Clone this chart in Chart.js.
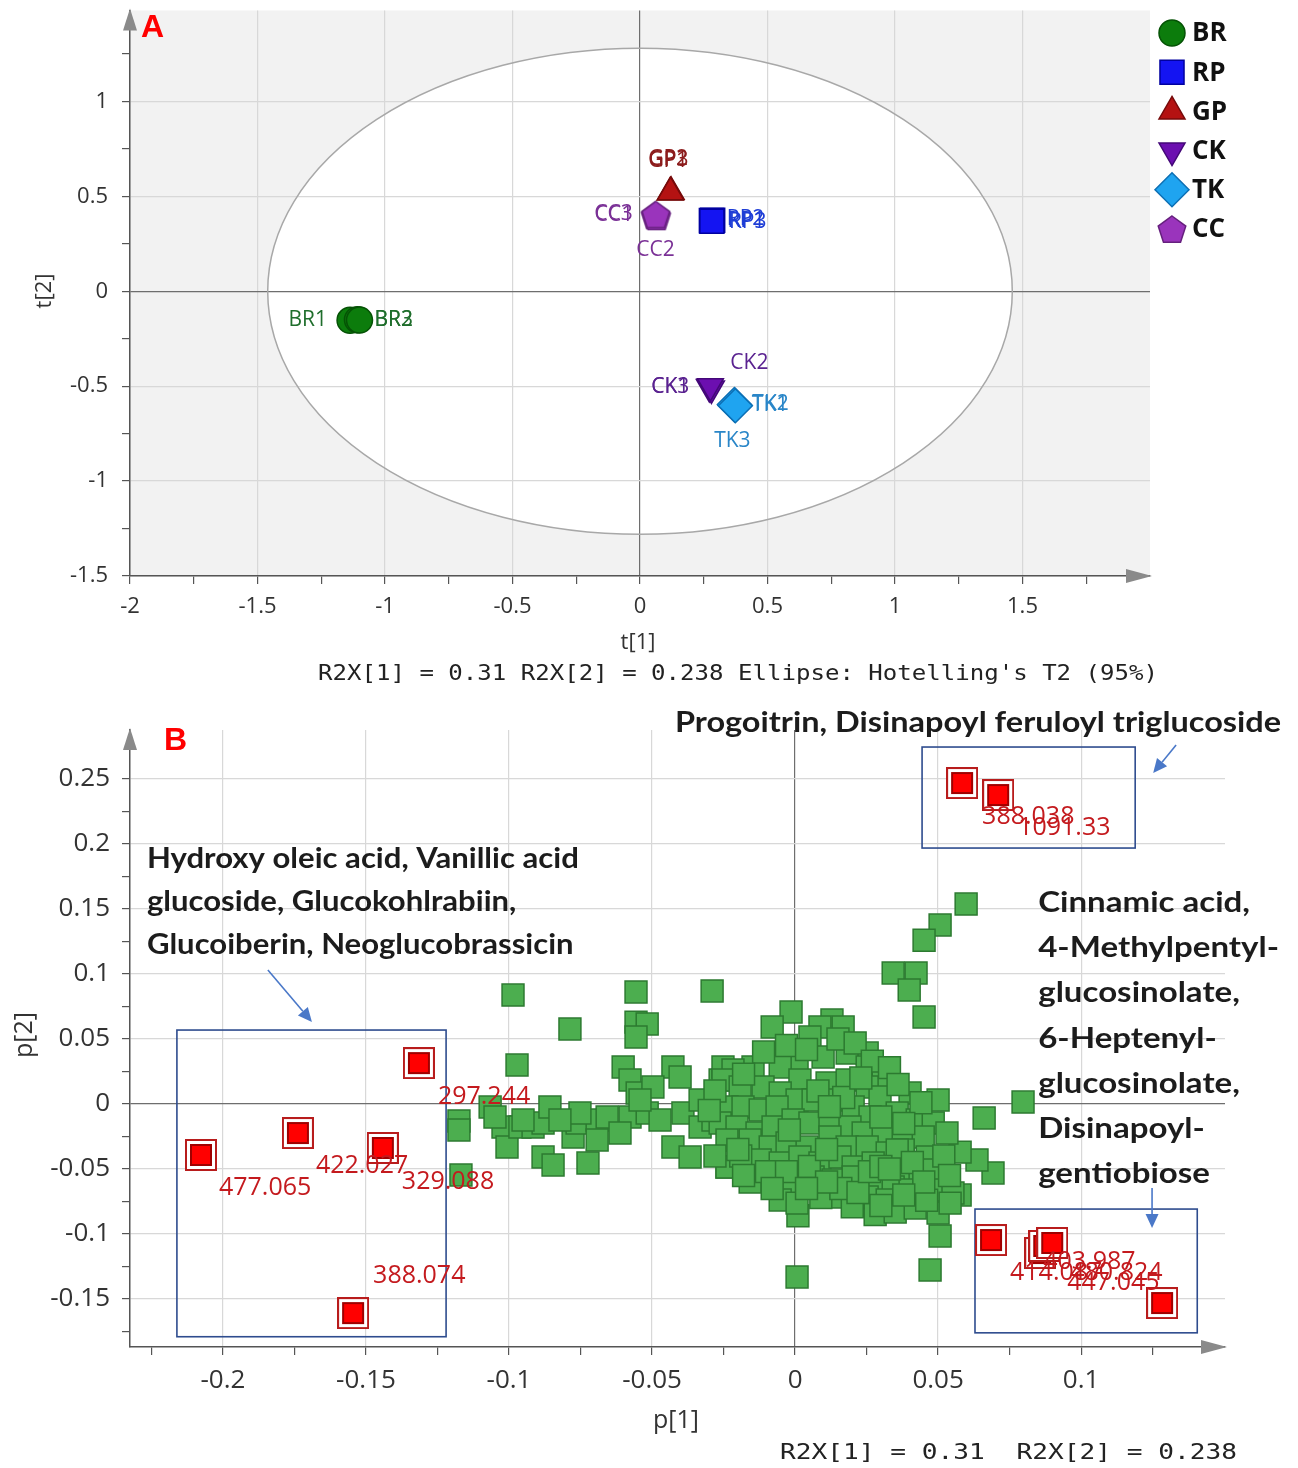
<!DOCTYPE html>
<html>
<head>
<meta charset="utf-8">
<script src="https://cdn.jsdelivr.net/npm/chart.js@4.4.1/dist/chart.umd.min.js"></script>
<style>
  body { margin: 0; background: #fff; width: 1298px; height: 1468px; overflow: hidden; position: relative; }
  canvas { display: block; position: absolute; left: 0; }
  #chartA { top: -8px; }
  #chartB { top: 695px; }
</style>
</head>
<body>
<canvas id="chartA" width="1298" height="703"></canvas>
<canvas id="chartB" width="1298" height="773"></canvas>
<script>
// ---------- panel A: scores t[1] / t[2] ----------
const groupNames = ['BR', 'RP', 'GP', 'CK', 'TK', 'CC'];
const scoresBR = [[-1.137, -0.153], [-1.108, -0.150], [-1.100, -0.152]];
const scoresRP = [[0.280, 0.372], [0.285, 0.374], [0.282, 0.369]];
const scoresGP = [[0.118, 0.520], [0.122, 0.524], [0.120, 0.522]];
const scoresCK = [[0.272, -0.505], [0.280, -0.512], [0.276, -0.500]];
const scoresTK = [[0.372, -0.600], [0.370, -0.597], [0.374, -0.603]];
const scoresCC = [[0.060, 0.400], [0.065, 0.395], [0.062, 0.405]];
const sampleNums = ['1', '2', '3'];

const t1Ticks = [-2, -1.75, -1.5, -1.25, -1, -0.75, -0.5, -0.25, 0, 0.25, 0.5, 0.75, 1, 1.25, 1.5, 1.75];
const t1TickLabels = ['-2', '', '-1.5', '', '-1', '', '-0.5', '', '0', '', '0.5', '', '1', '', '1.5', ''];
const t2Ticks = [-1.5, -1.25, -1, -0.75, -0.5, -0.25, 0, 0.25, 0.5, 0.75, 1, 1.25];
const t2TickLabels = ['-1.5', '', '-1', '', '-0.5', '', '0', '', '0.5', '', '1', ''];

// Hotelling's T2 (95%) ellipse half-axes
const ellipseT1 = 1.46;
const ellipseT2 = 1.28;

// ---------- panel B: loadings p[1] / p[2] ----------
const greenLoadings = [
  [-0.0986, 0.0838], [-0.0787, 0.0577], [-0.0972, 0.0300], [-0.0556, 0.0862], [-0.0556, 0.0630],
  [-0.0517, 0.0615], [-0.0556, 0.0515], [-0.0290, 0.0870], [-0.1175, -0.0130], [-0.1175, -0.0200],
  [-0.1168, -0.0546],
  [-0.1066, -0.0023], [-0.1021, -0.0177], [-0.1007, -0.0331], [-0.0962, -0.0177], [-0.0916, -0.0177],
  [-0.0881, -0.0146], [-0.0857, -0.0023], [-0.0881, -0.0408], [-0.0846, -0.0469], [-0.0776, -0.0254],
  [-0.0762, -0.0146], [-0.0724, -0.0454], [-0.0692, -0.0123], [-0.0657, -0.0100], [-0.0601, 0.0285],
  [-0.0577, 0.0185], [-0.0552, 0.0085], [-0.0577, -0.0100], [-0.0517, -0.0069], [-0.0472, -0.0123],
  [-0.0427, 0.0285], [-0.0402, 0.0208], [-0.0427, -0.0331], [-0.0367, -0.0408], [-0.0392, -0.0069],
  [-0.0332, 0.0031], [-0.0332, -0.0177], [-0.0262, 0.0185], [-0.0252, 0.0285], [-0.0238, -0.0485],
  [-0.0287, -0.0123], [-0.0227, -0.0069], [-0.0497, 0.0131], [-0.0542, 0.0031], [-0.0752, -0.0069],
  [-0.0822, -0.0123], [-0.0951, -0.0123], [-0.1049, -0.0100], [-0.0692, -0.0277], [-0.0612, -0.0223],
  [0.0598, 0.1538], [0.0507, 0.1377], [0.0451, 0.1260], [0.0343, 0.1008], [0.0423, 0.1008],
  [0.0399, 0.0877], [0.0451, 0.0669], [-0.0014, 0.0708], [-0.0080, 0.0592],
  [0.0797, 0.0015], [0.0661, -0.0108], [0.0692, -0.0530], [0.0636, -0.0430], [0.0577, -0.0370],
  [0.0007, -0.1330], [0.0472, -0.1277], [0.0507, -0.1015], [0.0500, -0.0838], [0.0577, -0.0700],
  [0.0010, -0.0860],
  [0.0129, 0.0646], [0.0087, 0.0592], [0.0168, 0.0592], [0.0052, 0.0515], [0.0252, 0.0392],
  [0.0007, 0.0338], [0.0098, 0.0362], [0.0182, 0.0392], [0.0252, 0.0285], [0.0308, 0.0208],
  [-0.0052, 0.0285], [-0.0147, 0.0285], [-0.0217, 0.0262], [0.0017, 0.0185], [0.0112, 0.0162],
  [0.0182, 0.0185], [0.0252, 0.0131], [0.0297, 0.0054], [0.0402, 0.0085], [0.0500, 0.0031],
  [-0.0252, 0.0185], [-0.0192, 0.0131], [-0.0112, 0.0131], [-0.0052, 0.0085], [0.0007, 0.0031],
  [0.0063, 0.0031], [0.0133, 0.0031], [0.0203, -0.0023], [0.0262, -0.0100], [0.0357, -0.0069],
  [0.0427, -0.0123], [0.0483, -0.0146], [-0.0238, -0.0023], [-0.0182, -0.0023], [-0.0122, -0.0046],
  [-0.0063, -0.0023], [-0.0262, -0.0146], [-0.0203, -0.0177], [-0.0133, -0.0223], [-0.0077, -0.0177],
  [-0.0007, -0.0123], [0.0052, -0.0146], [0.0122, -0.0123], [0.0192, -0.0177], [0.0238, -0.0223],
  [0.0308, -0.0223], [0.0378, -0.0277], [0.0448, -0.0254], [0.0531, -0.0223], [-0.0238, -0.0277],
  [-0.0157, -0.0277], [-0.0087, -0.0331], [-0.0028, -0.0300], [0.0042, -0.0331], [0.0122, -0.0254],
  [0.0182, -0.0331], [0.0252, -0.0331], [0.0322, -0.0377], [0.0378, -0.0354], [0.0462, -0.0408],
  [-0.0238, -0.0485], [-0.0122, -0.0431], [-0.0052, -0.0454], [0.0017, -0.0408], [0.0087, -0.0454],
  [0.0157, -0.0408], [0.0203, -0.0485], [0.0273, -0.0454], [0.0357, -0.0354], [0.0367, -0.0562],
  [0.0437, -0.0562], [0.0483, -0.0508], [-0.0077, -0.0585], [-0.0007, -0.0608], [0.0063, -0.0562],
  [0.0133, -0.0585], [0.0203, -0.0562], [0.0287, -0.0585], [0.0343, -0.0638], [0.0402, -0.0662],
  [0.0497, -0.0662], [0.0552, -0.0685], [-0.0052, -0.0738], [0.0007, -0.0762], [0.0133, -0.0715],
  [0.0252, -0.0715], [0.0322, -0.0738], [0.0542, -0.0762], [-0.0157, -0.0600], [-0.0190, -0.0400],
  [0.0280, -0.0850], [0.0350, -0.0830], [0.0420, -0.0800], [0.0200, -0.0790], [0.0090, -0.0720],
  [0.0460, -0.0740],
  [-0.0110, 0.0400], [-0.0030, 0.0450], [0.0040, 0.0420], [0.0150, 0.0500], [0.0210, 0.0470],
  [0.0270, 0.0330], [0.0330, 0.0280], [0.0360, 0.0150], [0.0440, 0.0010], [-0.0180, 0.0230],
  [-0.0280, 0.0100], [-0.0300, -0.0050], [-0.0200, -0.0350], [-0.0280, -0.0400], [-0.0180, -0.0550],
  [-0.0100, -0.0520], [-0.0030, -0.0520], [0.0050, -0.0480], [0.0110, -0.0350], [0.0160, -0.0650],
  [0.0220, -0.0680], [0.0260, -0.0520], [0.0300, -0.0480], [0.0330, -0.0500], [0.0410, -0.0450],
  [0.0450, -0.0600], [0.0380, -0.0700], [0.0300, -0.0780], [0.0110, -0.0600], [0.0040, -0.0650],
  [-0.0080, -0.0650], [0.0080, 0.0100], [0.0170, 0.0050], [0.0230, 0.0200], [-0.0020, -0.0200],
  [0.0120, -0.0020], [0.0300, -0.0100], [0.0380, -0.0150], [0.0520, -0.0400], [0.0540, -0.0550]
];
const redLoadings = [
  [-0.1315, 0.0315], [-0.1738, -0.0223], [-0.1441, -0.0338], [-0.2077, -0.0392], [-0.1545, -0.1608],
  [0.0584, 0.2469], [0.0710, 0.2377],
  [0.0685, -0.1046], [0.0857, -0.1146], [0.0871, -0.1092], [0.0899, -0.1069], [0.1283, -0.1531]
];
const redMz = ['297.244', '422.027', '329.088', '477.065', '388.074', '388.038', '1091.33',
  '414.087', '403.987', '447.045', '480.824', ''];

const p1Ticks = [-0.225, -0.2, -0.175, -0.15, -0.125, -0.1, -0.075, -0.05, -0.025, 0, 0.025, 0.05, 0.075, 0.1, 0.125];
const p1TickLabels = ['', '-0.2', '', '-0.15', '', '-0.1', '', '-0.05', '', '0', '', '0.05', '', '0.1', ''];
const p2Ticks = [-0.175, -0.15, -0.125, -0.1, -0.075, -0.05, -0.025, 0, 0.025, 0.05, 0.075, 0.1, 0.125, 0.15, 0.175, 0.2, 0.225, 0.25];
const p2TickLabels = ['', '-0.15', '', '-0.1', '', '-0.05', '', '0', '', '0.05', '', '0.1', '', '0.15', '', '0.2', '', '0.25'];

const noteTop = ['Progoitrin, Disinapoyl feruloyl triglucoside'];
const noteLeft = ['Hydroxy oleic acid, Vanillic acid', 'glucoside, Glucokohlrabiin,', 'Glucoiberin, Neoglucobrassicin'];
const noteRight = ['Cinnamic acid,', '4-Methylpentyl-', 'glucosinolate,', '6-Heptenyl-', 'glucosinolate,', 'Disinapoyl-', 'gentiobiose'];

// ---------- styles ----------
const SANS = "'Open Sans', 'Noto Sans', sans-serif";
const MONO = "'DejaVu Sans Mono', 'Liberation Mono', monospace";
Chart.defaults.font.family = SANS;
const SHIFT_A = 8; // canvas A sits 8px above the page top

function makePentagon(size, fill, line) {
  const c = document.createElement('canvas');
  c.width = size; c.height = size;
  const g = c.getContext('2d');
  const r = size / 2 - 1.5, cx = size / 2, cy = size / 2 + 1.5;
  g.beginPath();
  for (let i = 0; i < 5; i++) {
    const a = -Math.PI / 2 + i * 2 * Math.PI / 5;
    g.lineTo(cx + r * Math.cos(a), cy + r * Math.sin(a));
  }
  g.closePath();
  g.fillStyle = fill; g.fill();
  g.strokeStyle = line; g.lineWidth = 1.5; g.stroke();
  return c;
}

function makeRedMarker() {
  const c = document.createElement('canvas');
  c.width = 32; c.height = 32;
  const g = c.getContext('2d');
  g.fillStyle = '#fff'; g.fillRect(1, 1, 30, 30);
  g.strokeStyle = '#b81c1c'; g.lineWidth = 2; g.strokeRect(1, 1, 30, 30);
  g.fillStyle = '#ff0000'; g.fillRect(6, 6, 20, 20);
  g.strokeStyle = '#a00000'; g.lineWidth = 2; g.strokeRect(6, 6, 20, 20);
  return c;
}

const groupStyle = {
  BR: { data: scoresBR, shape: 'circle', rot: 0, r: 13, fill: '#0c7c0c', line: '#055205', text: '#1f6e2c' },
  RP: { data: scoresRP, shape: 'rect', rot: 0, r: 17, fill: '#1414f2', line: '#0000a0', text: '#1f3ed6' },
  GP: { data: scoresGP, shape: 'triangle', rot: 0, r: 15, fill: '#b41212', line: '#760a0a', text: '#8c1c1c' },
  CK: { data: scoresCK, shape: 'triangle', rot: 180, r: 15, fill: '#6c0fb0', line: '#440878', text: '#5a2290' },
  TK: { data: scoresTK, shape: 'rectRot', rot: 0, r: 17, fill: '#1fa4f0', line: '#0c6fb4', text: '#2a86c8' },
  CC: { data: scoresCC, shape: makePentagon(32, '#9a34bc', '#66207e'), rot: 0, r: 16, fill: '#9a34bc', line: '#66207e', text: '#7a3096' }
};

// label offsets in px from the marker: [dx, dy, align]
const labelPlaceA = {
  BR: [[-23, 0, 'right'], [17, 0, 'left'], [15, 0, 'left']],
  RP: [[16, 0, 'left'], [14, -1, 'left'], [17, 1, 'left']],
  GP: [[-2, -32, 'center'], [-3, -33, 'center'], [-2, -32, 'center']],
  CK: [[-20, 0, 'right'], [38, -25, 'center'], [-21, 1, 'right']],
  TK: [[17, 0, 'left'], [18, -1, 'left'], [-3, 35, 'center']],
  CC: [[-22, 0, 'right'], [-1, 34, 'center'], [-23, 0, 'right']]
};

// red label offsets [dx, dy, align]
const redLabelPlace = [
  [19, 34, 'left'], [18, 33, 'left'], [19, 34, 'left'], [18, 33, 'left'], [20, -37, 'left'],
  [20, 34, 'left'], [20, 33, 'left'],
  [19, 33, 'left'], [3, 9, 'left'], [23, 37, 'left'], [18, 30, 'left'], [0, 0, 'left']
];

// annotation geometry in data units
const boxesB = [[-0.2161, -0.1220, 0.0569, -0.1790], [0.0444, 0.1189, 0.2746, 0.1969], [0.0629, 0.1406, -0.0808, -0.1760]];
const arrowsB = [[-0.1843, 0.1031, -0.1689, 0.0631], [0.1332, 0.2762, 0.1252, 0.2546], [0.1248, -0.0646, 0.1248, -0.0954]];

function drawMarker(ctx, st, x, y) {
  ctx.save();
  if (st.shape instanceof HTMLCanvasElement) {
    ctx.drawImage(st.shape, x - st.shape.width / 2, y - st.shape.height / 2);
    ctx.restore();
    return;
  }
  ctx.fillStyle = st.fill; ctx.strokeStyle = st.line; ctx.lineWidth = 1.5;
  ctx.beginPath();
  const r = st.r;
  if (st.shape === 'circle') {
    ctx.arc(x, y, r, 0, Math.PI * 2);
  } else if (st.shape === 'rect') {
    const s = r * Math.SQRT1_2;
    ctx.rect(x - s, y - s, 2 * s, 2 * s);
  } else if (st.shape === 'rectRot') {
    ctx.moveTo(x, y - r); ctx.lineTo(x + r, y); ctx.lineTo(x, y + r); ctx.lineTo(x - r, y); ctx.closePath();
  } else {
    const d = st.rot ? -1 : 1;
    ctx.moveTo(x, y - d * r);
    ctx.lineTo(x + r * 0.866, y + d * r * 0.5);
    ctx.lineTo(x - r * 0.866, y + d * r * 0.5);
    ctx.closePath();
  }
  ctx.fill(); ctx.stroke();
  ctx.restore();
}

function axisArrows(ctx, area) {
  ctx.save();
  ctx.fillStyle = '#8a8a8a';
  ctx.beginPath();
  ctx.moveTo(area.left, area.top - 2);
  ctx.lineTo(area.left - 7, area.top + 20);
  ctx.lineTo(area.left + 7, area.top + 20);
  ctx.closePath(); ctx.fill();
  ctx.beginPath();
  ctx.moveTo(area.right + 2, area.bottom);
  ctx.lineTo(area.right - 24, area.bottom - 7);
  ctx.lineTo(area.right - 24, area.bottom + 7);
  ctx.closePath(); ctx.fill();
  ctx.restore();
}

function monoLine(ctx, text, left, y, width, size) {
  ctx.save();
  ctx.font = size + 'px ' + MONO;
  ctx.fillStyle = '#222';
  ctx.textBaseline = 'middle';
  const w = ctx.measureText(text).width;
  ctx.translate(left, y);
  ctx.scale(width / w, 1);
  ctx.fillText(text, 0, 0);
  ctx.restore();
}

function noteLine(ctx, text, x, y, sx) {
  ctx.save();
  ctx.translate(x, y);
  ctx.scale(sx, 1);
  ctx.fillText(text, 0, 0);
  ctx.restore();
}

function gridColor(labels) {
  return c => {
    if (!c.tick) return 'rgba(0,0,0,0)';
    if (c.tick.value === 0) return '#6e6e6e';
    return labels[c.index] ? '#d8d8d8' : 'rgba(0,0,0,0)';
  };
}

function fixedTicks(values) {
  return axis => { axis.ticks = values.map(v => ({ value: v })); };
}

// ---------- chart A ----------
const panelA = {
  id: 'panelA',
  beforeDraw(chart) {
    const { ctx, chartArea: a, scales: { x, y } } = chart;
    ctx.save();
    ctx.fillStyle = '#f2f2f2';
    ctx.fillRect(a.left, a.top, a.right - a.left, a.bottom - a.top);
    const cx = x.getPixelForValue(0), cy = y.getPixelForValue(0);
    const rx = x.getPixelForValue(ellipseT1) - cx, ry = cy - y.getPixelForValue(ellipseT2);
    ctx.beginPath();
    ctx.ellipse(cx, cy, rx, ry, 0, 0, Math.PI * 2);
    ctx.fillStyle = '#fff';
    ctx.fill();
    ctx.restore();
  },
  beforeDatasetsDraw(chart) {
    const { ctx, scales: { x, y } } = chart;
    const cx = x.getPixelForValue(0), cy = y.getPixelForValue(0);
    const rx = x.getPixelForValue(ellipseT1) - cx, ry = cy - y.getPixelForValue(ellipseT2);
    ctx.save();
    ctx.beginPath();
    ctx.ellipse(cx, cy, rx, ry, 0, 0, Math.PI * 2);
    ctx.strokeStyle = '#a8a8a8';
    ctx.lineWidth = 1.5;
    ctx.stroke();
    ctx.restore();
  },
  afterDatasetsDraw(chart) {
    const { ctx } = chart;
    ctx.save();
    ctx.font = '21px ' + SANS;
    ctx.textBaseline = 'middle';
    groupNames.forEach((g, i) => {
      const meta = chart.getDatasetMeta(i);
      meta.data.forEach((pt, j) => {
        const [dx, dy, align] = labelPlaceA[g][j];
        ctx.fillStyle = groupStyle[g].text;
        ctx.textAlign = align;
        ctx.fillText(g + sampleNums[j], pt.x + dx, pt.y + dy);
      });
    });
    ctx.restore();
  },
  afterDraw(chart) {
    const { ctx, chartArea: a } = chart;
    axisArrows(ctx, a);
    ctx.save();
    // legend
    ctx.font = 'bold 26px ' + SANS;
    ctx.textBaseline = 'middle';
    ctx.textAlign = 'left';
    groupNames.forEach((g, i) => {
      const ly = SHIFT_A + 33 + i * 39.2;
      drawMarker(ctx, groupStyle[g], a.right + 22, ly);
      ctx.fillStyle = '#111';
      ctx.fillText(g, a.right + 42, ly + 1);
    });
    // panel letter
    ctx.fillStyle = '#ff0000';
    ctx.font = "bold 32px 'Liberation Sans', Arial, sans-serif";
    ctx.fillText('A', a.left + 11, SHIFT_A + 28);
    // axis titles
    ctx.fillStyle = '#333';
    ctx.font = '22px ' + SANS;
    ctx.textAlign = 'center';
    ctx.fillText('t[1]', 638, SHIFT_A + 643);
    ctx.translate(45, SHIFT_A + 291);
    ctx.rotate(-Math.PI / 2);
    ctx.fillText('t[2]', 0, 0);
    ctx.restore();
    monoLine(ctx, "R2X[1] = 0.31 R2X[2] = 0.238 Ellipse: Hotelling's T2 (95%)", 318, SHIFT_A + 675, 840, 21);
  }
};

new Chart(document.getElementById('chartA'), {
  type: 'scatter',
  data: {
    datasets: groupNames.map(g => {
      const st = groupStyle[g];
      return {
        label: g,
        data: st.data.map(([x, y]) => ({ x, y })),
        pointStyle: st.shape,
        rotation: st.rot,
        pointRadius: st.r,
        pointHoverRadius: st.r,
        backgroundColor: st.fill,
        borderColor: st.line,
        borderWidth: 1.5
      };
    })
  },
  options: {
    responsive: false,
    animation: false,
    layout: { padding: { left: 0, right: 148, top: 3, bottom: 0 } },
    plugins: { legend: { display: false }, tooltip: { enabled: false } },
    scales: {
      x: {
        type: 'linear', min: -2, max: 2,
        afterBuildTicks: fixedTicks(t1Ticks),
        afterFit: s => { s.height = 119; s.paddingLeft = 0; s.paddingRight = 0; },
        ticks: { autoSkip: false, maxRotation: 0, padding: 10, color: '#333', font: { size: 22 }, callback: (v, i) => t1TickLabels[i] },
        grid: { color: gridColor(t1TickLabels), lineWidth: 1.2, tickLength: 8, tickColor: '#555' },
        border: { color: '#555', width: 1.5 }
      },
      y: {
        type: 'linear', min: -1.5, max: 1.479,
        afterBuildTicks: fixedTicks(t2Ticks),
        afterFit: s => { s.width = 130; s.paddingTop = 0; s.paddingBottom = 0; },
        ticks: { autoSkip: false, padding: 14, color: '#333', font: { size: 22 }, callback: (v, i) => t2TickLabels[i] },
        grid: { color: gridColor(t2TickLabels), lineWidth: 1.2, tickLength: 8, tickColor: '#555' },
        border: { color: '#555', width: 1.5 }
      }
    }
  },
  plugins: [panelA]
});

// ---------- chart B ----------
function drawArrow(ctx, x0, y0, x1, y1, color) {
  const ang = Math.atan2(y1 - y0, x1 - x0), head = 14, half = 6.5;
  const bx = x1 - head * Math.cos(ang), by = y1 - head * Math.sin(ang);
  ctx.save();
  ctx.strokeStyle = color; ctx.fillStyle = color; ctx.lineWidth = 1.6;
  ctx.beginPath(); ctx.moveTo(x0, y0); ctx.lineTo(bx, by); ctx.stroke();
  ctx.beginPath();
  ctx.moveTo(x1, y1);
  ctx.lineTo(bx + half * Math.sin(ang), by - half * Math.cos(ang));
  ctx.lineTo(bx - half * Math.sin(ang), by + half * Math.cos(ang));
  ctx.closePath(); ctx.fill();
  ctx.restore();
}

const panelB = {
  id: 'panelB',
  beforeDatasetsDraw(chart) {
    const { ctx, scales: { x, y } } = chart;
    ctx.save();
    ctx.strokeStyle = '#2e4c8e';
    ctx.lineWidth = 1.6;
    boxesB.forEach(([x0, x1, y0, y1]) => {
      const px0 = x.getPixelForValue(x0), px1 = x.getPixelForValue(x1);
      const py0 = y.getPixelForValue(y0), py1 = y.getPixelForValue(y1);
      ctx.strokeRect(px0, py0, px1 - px0, py1 - py0);
    });
    ctx.restore();
  },
  afterDatasetsDraw(chart) {
    const { ctx, scales: { x, y } } = chart;
    const meta = chart.getDatasetMeta(1);
    ctx.save();
    ctx.font = '25px ' + SANS;
    ctx.fillStyle = '#c41a1e';
    ctx.textBaseline = 'middle';
    meta.data.forEach((pt, i) => {
      const [dx, dy, align] = redLabelPlace[i];
      ctx.textAlign = align;
      ctx.fillText(redMz[i], pt.x + dx, pt.y + dy);
    });
    ctx.restore();
    arrowsB.forEach(([x0, y0, x1, y1]) => {
      drawArrow(ctx, x.getPixelForValue(x0), y.getPixelForValue(y0), x.getPixelForValue(x1), y.getPixelForValue(y1), '#4a78c8');
    });
  },
  afterDraw(chart) {
    const { ctx, chartArea: a, scales: { x, y } } = chart;
    axisArrows(ctx, a);
    ctx.save();
    ctx.fillStyle = '#ff0000';
    ctx.font = "bold 32px 'Liberation Sans', Arial, sans-serif";
    ctx.textBaseline = 'middle';
    ctx.fillText('B', a.left + 34, 46);
    // notes
    ctx.fillStyle = '#1c1c1c';
    ctx.font = "bold 28px Lato, 'Open Sans', sans-serif";
    ctx.textAlign = 'left';
    noteLine(ctx, noteTop[0], x.getPixelForValue(-0.0420), y.getPixelForValue(0.2930), 1.16);
    noteLeft.forEach((t, i) => noteLine(ctx, t, x.getPixelForValue(-0.2266), y.getPixelForValue(0.1885) + i * 43, 1.11));
    noteRight.forEach((t, i) => noteLine(ctx, t, x.getPixelForValue(0.0850), y.getPixelForValue(0.1546) + i * 45.2, 1.18));
    // axis titles
    ctx.fillStyle = '#333';
    ctx.font = '25px ' + SANS;
    ctx.textAlign = 'center';
    ctx.fillText('p[1]', 676, 726);
    ctx.translate(25, 340);
    ctx.rotate(-Math.PI / 2);
    ctx.fillText('p[2]', 0, 0);
    ctx.restore();
    monoLine(ctx, 'R2X[1] = 0.31  R2X[2] = 0.238', 780, 758, 457, 22);
  }
};

new Chart(document.getElementById('chartB'), {
  type: 'scatter',
  data: {
    datasets: [
      {
        label: 'variables',
        data: greenLoadings.map(([x, y]) => ({ x, y })),
        pointStyle: 'rect',
        pointRadius: 15.5,
        pointHoverRadius: 15.5,
        backgroundColor: '#4cae4f',
        borderColor: '#2c7a30',
        borderWidth: 1.5
      },
      {
        label: 'markers',
        data: redLoadings.map(([x, y]) => ({ x, y })),
        pointStyle: makeRedMarker(),
        pointRadius: 16,
        pointHoverRadius: 16
      }
    ]
  },
  options: {
    responsive: false,
    animation: false,
    layout: { padding: { left: 0, right: 73, top: 35, bottom: 0 } },
    plugins: { legend: { display: false }, tooltip: { enabled: false } },
    scales: {
      x: {
        type: 'linear', min: -0.2325, max: 0.1503,
        afterBuildTicks: fixedTicks(p1Ticks),
        afterFit: s => { s.height = 121; },
        ticks: { autoSkip: false, maxRotation: 0, padding: 10, color: '#333', font: { size: 26 }, callback: (v, i) => p1TickLabels[i] },
        grid: { color: gridColor(p1TickLabels), lineWidth: 1.2, tickLength: 8, tickColor: '#555' },
        border: { color: '#555', width: 1.5 }
      },
      y: {
        type: 'linear', min: -0.1869, max: 0.2877,
        afterBuildTicks: fixedTicks(p2Ticks),
        afterFit: s => { s.width = 130; },
        ticks: { autoSkip: false, padding: 12, color: '#333', font: { size: 26 }, callback: (v, i) => p2TickLabels[i] },
        grid: { color: gridColor(p2TickLabels), lineWidth: 1.2, tickLength: 8, tickColor: '#555' },
        border: { color: '#555', width: 1.5 }
      }
    }
  },
  plugins: [panelB]
});
</script>
</body>
</html>
